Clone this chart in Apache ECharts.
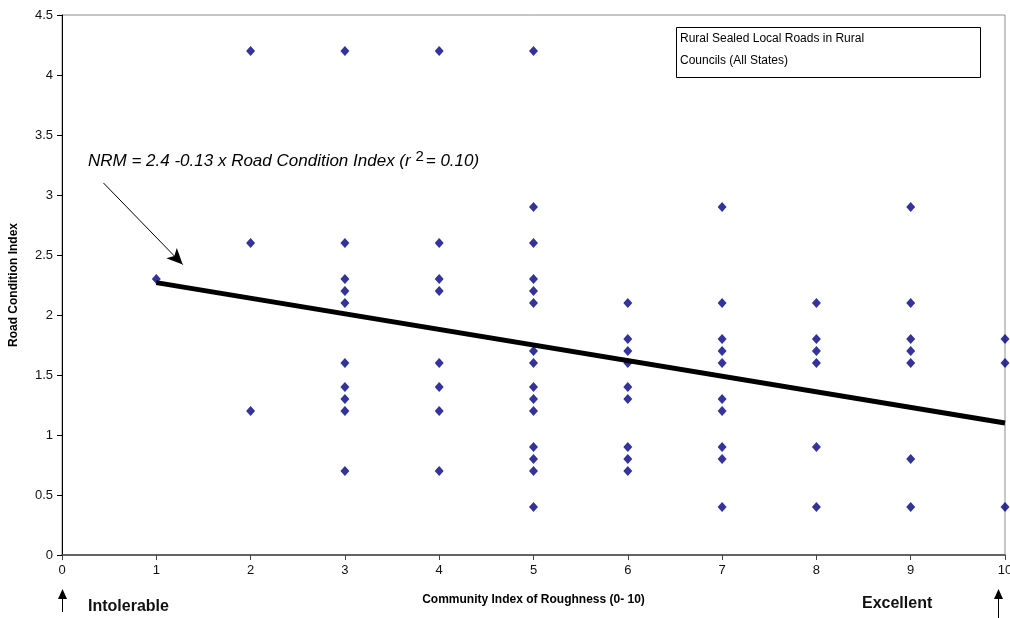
<!DOCTYPE html>
<html>
<head>
<meta charset="utf-8">
<script src="https://cdn.jsdelivr.net/npm/echarts@6/dist/echarts.min.js"></script>
<style>
  html, body { margin: 0; padding: 0; background: #fff; }
  #chart { width: 1010px; height: 618px; }
</style>
</head>
<body>
<div id="chart"></div>
<script>
// 各列的道路状况指数 (按粗糙度 0-10 分组)
var roughness = [1, 2, 3, 4, 5, 6, 7, 8, 9, 10];
var conditionByRoughness = [
    [2.3],
    [4.2, 2.6, 1.2],
    [4.2, 2.6, 2.3, 2.2, 2.1, 1.6, 1.4, 1.3, 1.2, 0.7],
    [4.2, 2.6, 2.3, 2.2, 1.6, 1.4, 1.2, 0.7],
    [4.2, 2.9, 2.6, 2.3, 2.2, 2.1, 1.7, 1.6, 1.4, 1.3, 1.2, 0.9, 0.8, 0.7, 0.4],
    [2.1, 1.8, 1.7, 1.6, 1.4, 1.3, 0.9, 0.8, 0.7],
    [2.9, 2.1, 1.8, 1.7, 1.6, 1.3, 1.2, 0.9, 0.8, 0.4],
    [2.1, 1.8, 1.7, 1.6, 0.9, 0.4],
    [2.9, 2.1, 1.8, 1.7, 1.6, 0.8, 0.4],
    [1.8, 1.6, 0.4]
];
// 回归线两端
var trendX = [1, 10];
var trendY = [2.27, 1.1];
// 注释箭头 (数据坐标)
var arrowFrom = [0.44, 3.1];
var arrowTo = [1.28, 2.42];

var points = [];
roughness.forEach(function (x, i) {
    conditionByRoughness[i].forEach(function (v) {
        points.push([x, v]);
    });
});
var trendLine = trendX.map(function (x, i) { return [x, trendY[i]]; });

var chart = echarts.init(document.getElementById('chart'));
var font = 'Liberation Sans, Arial, sans-serif';

var option = {
    animation: false,
    backgroundColor: '#fff',
    grid: {
        left: 62, right: 5, top: 15, bottom: 63,
        outerBoundsMode: 'none',
        containLabel: false,
        show: true,
        borderColor: '#8c8c8c',
        borderWidth: 1
    },
    xAxis: {
        type: 'value',
        min: 0, max: 10, interval: 1,
        name: 'Community Index of Roughness (0- 10)',
        nameLocation: 'middle',
        nameGap: 39,
        nameTextStyle: { fontFamily: font, fontWeight: 'bold', fontSize: 12, color: '#000' },
        axisLine: { lineStyle: { color: '#444', width: 1.5 } },
        axisTick: { show: true, length: 5, lineStyle: { color: '#444' } },
        axisLabel: { fontFamily: font, fontSize: 13, color: '#111', margin: 9 },
        splitLine: { show: false }
    },
    yAxis: {
        type: 'value',
        min: 0, max: 4.5, interval: 0.5,
        name: 'Road Condition Index',
        nameLocation: 'middle',
        nameGap: 42,
        nameTextStyle: { fontFamily: font, fontWeight: 'bold', fontSize: 12, color: '#000' },
        axisLine: { show: true, lineStyle: { color: '#000', width: 1 } },
        axisTick: { show: true, length: 5, lineStyle: { color: '#000' } },
        axisLabel: { fontFamily: font, fontSize: 13, color: '#111', margin: 9 },
        splitLine: { show: false }
    },
    graphic: [
        // 图例框
        {
            type: 'rect',
            shape: { x: 676.5, y: 27.5, width: 304, height: 50 },
            style: { fill: '#fff', stroke: '#000', lineWidth: 1 },
            z: 10
        },
        {
            type: 'text',
            left: 680, top: 28,
            style: {
                text: 'Rural Sealed Local Roads in Rural\nCouncils (All States)',
                font: '12px ' + font,
                lineHeight: 22,
                fill: '#000'
            },
            z: 11
        },
        // 回归方程
        {
            type: 'text',
            left: 88, top: 149,
            style: {
                text: '{a|NRM = 2.4 -0.13 x Road Condition Index (r }{s|2}{a|= 0.10)}',
                rich: {
                    a: { font: 'italic 17px ' + font, fill: '#000', verticalAlign: 'bottom' },
                    s: { font: '15px ' + font, fill: '#000', verticalAlign: 'top', padding: [0, 2, 6, 0] }
                }
            },
            z: 10
        },
        // 底部说明
        {
            type: 'text', left: 88, top: 599,
            style: { text: 'Intolerable', font: 'bold 16px ' + font, fill: '#111' }
        },
        {
            type: 'text', left: 862, top: 596,
            style: { text: 'Excellent', font: 'bold 16px ' + font, fill: '#111' }
        },
        { type: 'line', shape: { x1: 62.5, y1: 596, x2: 62.5, y2: 612 }, style: { stroke: '#000', lineWidth: 1 } },
        { type: 'polygon', shape: { points: [[58, 599], [67, 599], [62.5, 589]] }, style: { fill: '#000' } },
        { type: 'line', shape: { x1: 998.5, y1: 596, x2: 998.5, y2: 618 }, style: { stroke: '#000', lineWidth: 1 } },
        { type: 'polygon', shape: { points: [[994, 599], [1003, 599], [998.5, 589]] }, style: { fill: '#000' } }
    ],
    series: [
        {
            name: 'Roads',
            type: 'scatter',
            symbol: 'diamond',
            symbolSize: [9, 10],
            itemStyle: { color: '#000080' },
            data: points,
            z: 3
        },
        {
            name: 'Trend',
            type: 'line',
            data: trendLine,
            symbol: 'none',
            lineStyle: { color: '#000', width: 5 },
            z: 4,
            markLine: {
                silent: true,
                symbol: ['none', 'arrow'],
                symbolSize: [11, 16],
                lineStyle: { color: '#000', width: 1, type: 'solid' },
                label: { show: false },
                data: [[{ coord: arrowFrom }, { coord: arrowTo }]]
            }
        }
    ]
};

chart.setOption(option);
</script>
</body>
</html>
